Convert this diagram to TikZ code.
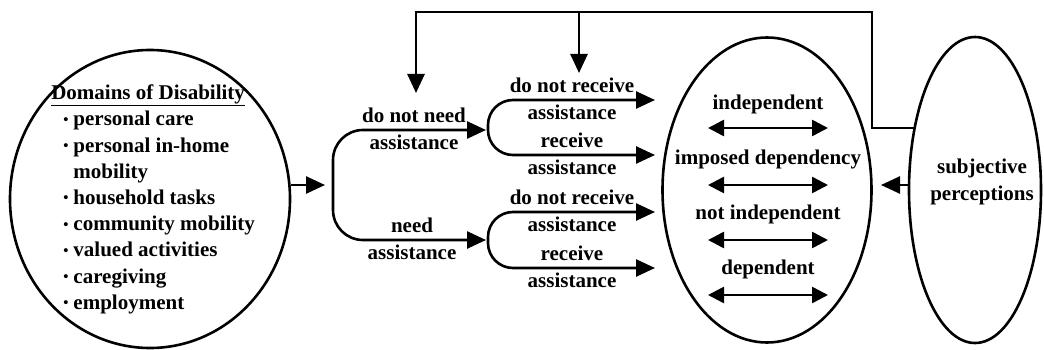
\documentclass[tikz,border=0pt]{standalone}
\usepackage{fontspec}
\setmainfont{Liberation Serif}
\usetikzlibrary{arrows.meta,shapes.geometric}
\newcommand{\itemdot}{\hspace{12pt}\raisebox{1.5pt}{\scalebox{0.7}{\textbullet}}}
\begin{document}
\begin{tikzpicture}[x=1pt,y=-1pt,
  line width=2.6pt,
  tip/.style={-{Triangle[length=19pt,width=17pt]}},
  fork/.style={{Triangle[length=19pt,width=17pt]}-{Triangle[length=19pt,width=17pt]}},
  both/.style={{Triangle[length=16pt,width=16pt]}-{Triangle[length=16pt,width=16pt]}},
  oval/.style={draw,ellipse,inner sep=0pt},
  lbl/.style={font=\bfseries\fontsize{21}{27}\selectfont,align=center,inner sep=0pt}]
\useasboundingbox (0,0) rectangle (1044,350);

% domains of disability
\node[oval,minimum width=280pt,minimum height=298pt] (dom) at (150,199) {};
\node[anchor=north west,inner sep=0pt,font=\bfseries\fontsize{21}{26.2}\selectfont] (dlist) at (50,80)
 {\begin{tabular}{@{}l@{\hspace{5pt}}l@{}}
  \multicolumn{2}{@{}l@{}}{\underline{Domains of Disability}}\\
  \itemdot & personal care\\
  \itemdot & personal in-home\\
   & mobility\\
  \itemdot & household tasks\\
  \itemdot & community mobility\\
  \itemdot & valued activities\\
  \itemdot & caregiving\\
  \itemdot & employment
 \end{tabular}};
\coordinate (in0) at (325,185);
\draw[tip] (dom.east|-in0) -- (in0);

% need / do not need assistance
\coordinate (n1) at (486,130);
\coordinate (n2) at (486,240);
\draw[fork,rounded corners=30pt] (n1) -- (333,130) -- (333,240) -- (n2);
\node[lbl] (needno) at (414,129) {do not need\\assistance};
\node[lbl] (needyes) at (412,239) {need\\assistance};

% receive / do not receive assistance
\coordinate (r1) at (655,100);
\coordinate (r2) at (655,155);
\coordinate (r3) at (655,212);
\coordinate (r4) at (655,268);
\draw[fork,rounded corners=25pt] (r1) -- (488,100) -- (488,155) -- (r2);
\draw[fork,rounded corners=25pt] (r3) -- (488,212) -- (488,268) -- (r4);
\node[lbl] (rc1) at (572,99) {do not receive\\assistance};
\node[lbl] (rc2) at (572,154) {receive\\assistance};
\node[lbl] (rc3) at (572,211) {do not receive\\assistance};
\node[lbl] (rc4) at (572,267) {receive\\assistance};

% states
\node[oval,minimum width=209pt,minimum height=305pt] (st) at (767,190) {};
\node[lbl] (s1) at (768,104) {independent};
\node[lbl] (s2) at (768,159) {imposed dependency};
\node[lbl] (s3) at (768,214) {not independent};
\node[lbl] (s4) at (768,269) {dependent};
\foreach \yy in {128,185,240,295}
  \draw[both] (708,\yy) -- (828,\yy);

% subjective perceptions
\node[oval,minimum width=132pt,minimum height=306pt] (sp) at (975,190) {};
\node[lbl] (spt) at (982,182) {subjective\\perceptions};
\coordinate (in1) at (881,185);
\draw[tip] (sp.west|-in1) -- (in1);

% feedback from perceptions
\coordinate (fb) at (916,128);
\coordinate (d1) at (416,93);
\coordinate (d2) at (579,73);
\draw[tip] (fb) -- (872,128) -- (872,12) -- (416,12) -- (d1);
\draw[tip] (579,12) -- (d2);
\end{tikzpicture}
\end{document}
